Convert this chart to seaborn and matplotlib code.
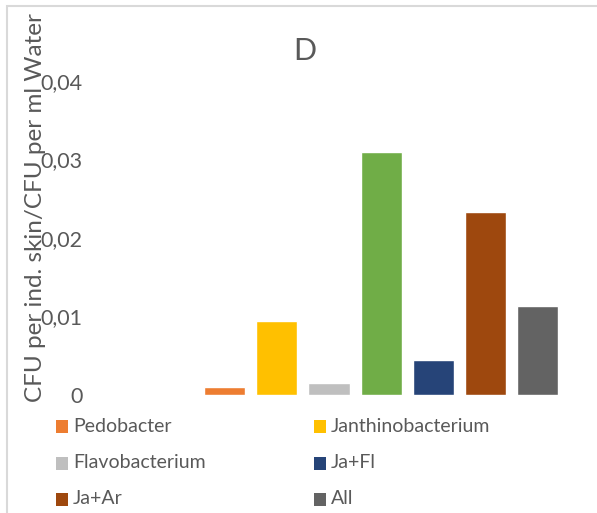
import matplotlib
matplotlib.use("Agg")
import matplotlib.pyplot as plt
from matplotlib.patches import Rectangle
from matplotlib.ticker import FuncFormatter
import seaborn as sns
import pandas as pd

# Bacterial treatments and their CFU ratios
groups = ["Pedobacter", "Janthinobacterium", "Flavobacterium", "Ja+Ar+Fl",
          "Ja+Fl", "Ja+Ar", "All"]
values = [0.00102, 0.0094, 0.0015, 0.0310, 0.00446, 0.0233, 0.0113]
colors = ["#ED7D31", "#FFC000", "#BFBFBF", "#70AD47", "#264478", "#9E480E", "#636363"]
legend_groups = ["Pedobacter", "Janthinobacterium", "Flavobacterium",
                 "Ja+Fl", "Ja+Ar", "All"]
y_ticks = [0, 0.01, 0.02, 0.03, 0.04]

sns.set_theme(style="white")
plt.rcParams["font.family"] = ["Lato", "DejaVu Sans"]
text_color = "#595959"

W, H = 597, 513
fig = plt.figure(figsize=(W / 100, H / 100), dpi=100)

# plot area in pixel coordinates
left_px, right_px, top_px, base_px = 95, 590, 81, 395
ax = fig.add_axes([left_px / W, 1 - base_px / H,
                   (right_px - left_px) / W, (base_px - top_px) / H])

df = pd.DataFrame({"group": groups, "value": values})
sns.barplot(data=df, x="group", y="value", hue="group", order=groups,
            hue_order=groups, palette=colors, width=0.79, saturation=1,
            legend=False, ax=ax)

ax.set_ylim(0, 0.04)
ax.set_yticks(y_ticks)
ax.yaxis.set_major_formatter(FuncFormatter(
    lambda v, _: "0" if v == 0 else f"{v:.2f}".replace(".", ",")))
ax.tick_params(axis="y", length=0, pad=9, labelsize=15.5, labelcolor=text_color)
ax.set_xticks([])
ax.set_xlim(-2.48, 7.0)
ax.set_xlabel("")
ax.set_ylabel("")
for s in ax.spines.values():
    s.set_visible(False)

# axis title and chart title
fig.text(36 / W, 1 - 208 / H, "CFU per ind. skin/CFU per ml Water",
         rotation=90, ha="center", va="center", fontsize=17.5, color=text_color)
fig.text(305 / W, 1 - 51 / H, "D", ha="center", va="center",
         fontsize=22, color=text_color)

# legend laid out in two columns
col_x = [56, 314]
row_y = [426, 463, 499]
color_of = dict(zip(groups, colors))
for i, name in enumerate(legend_groups):
    cx = col_x[i % 2]
    cy = row_y[i // 2]
    fig.patches.append(Rectangle(((cx) / W, 1 - (cy + 6.5) / H), 12 / W, 13 / H,
                                 transform=fig.transFigure,
                                 facecolor=color_of[name], edgecolor="none"))
    fig.text((cx + 17) / W, 1 - cy / H, name, ha="left", va="center",
             fontsize=14, color=text_color)

# chart frame
fig.patches.append(Rectangle((7 / W, -0.1), 1.2, 1 - 6 / H + 0.1,
                             transform=fig.transFigure, facecolor="none",
                             edgecolor="#D9D9D9", linewidth=1.5))

fig.savefig("out.png", dpi=100)
